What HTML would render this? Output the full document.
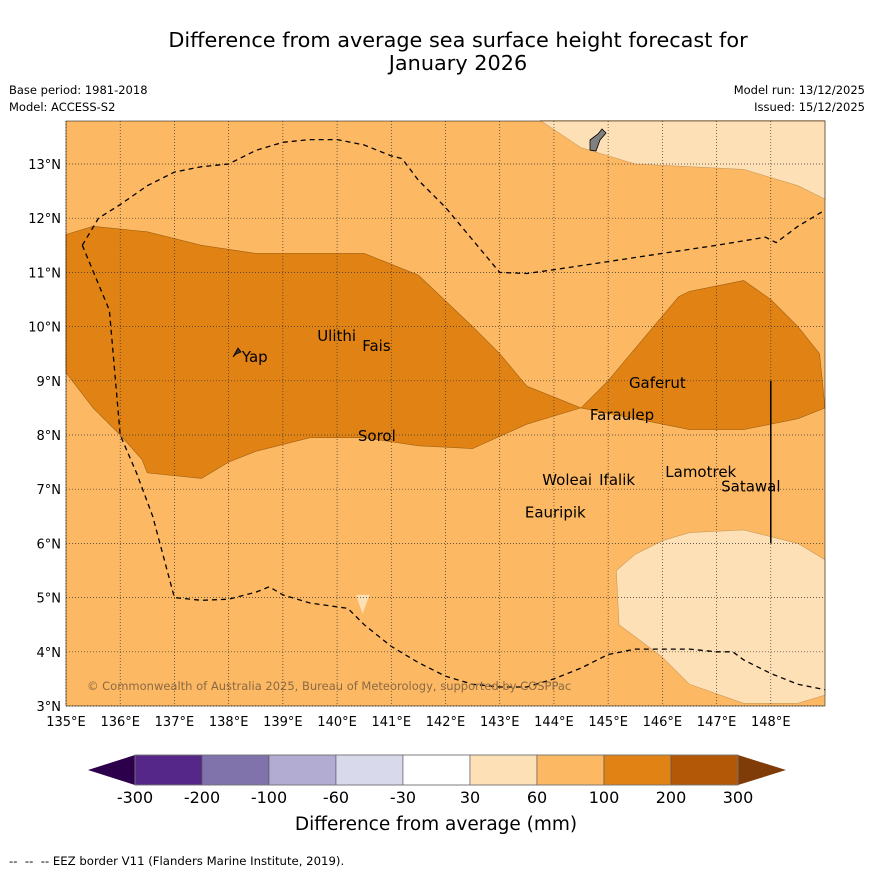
<!DOCTYPE html>
<html><head><meta charset="utf-8"><style>
body{margin:0;background:#fff;font-family:"Liberation Sans","DejaVu Sans",sans-serif;}
svg text{font-family:"DejaVu Sans","Liberation Sans",sans-serif;}
</style></head><body>
<svg id="c" width="873" height="873" xmlns="http://www.w3.org/2000/svg">
<text x="458" y="47" font-size="20.8" text-anchor="middle">Difference from average sea surface height forecast for</text>
<text x="458" y="70" font-size="20.8" text-anchor="middle">January 2026</text>
<text x="9" y="94" font-size="11.5">Base period: 1981-2018</text>
<text x="9" y="111" font-size="11.5">Model: ACCESS-S2</text>
<text x="865" y="94" font-size="11.5" text-anchor="end">Model run: 13/12/2025</text>
<text x="865" y="111" font-size="11.5" text-anchor="end">Issued: 15/12/2025</text>
<g id="map"></g>
<g id="cbar"></g>
<text x="436" y="830" font-size="18.5" text-anchor="middle">Difference from average (mm)</text>
<text x="9" y="865" font-size="11.7">-- &#160;-- &#160;-- EEZ border V11 (Flanders Marine Institute, 2019).</text>
</svg>
<script>
const lonTicks=[135,136,137,138,139,140,141,142,143,144,145,146,147,148];
const latTicks=[3,4,5,6,7,8,9,10,11,12,13];
const cbLevels=["-300","-200","-100","-60","-30","30","60","100","200","300"];
const cbColors=["#542788","#8073ac","#b2abd2","#d8daeb","#ffffff","#fee0b6","#fdb863","#e08214","#b35806"];
const darkLon=[135,135.5,136.5,137.5,138.5,140.5,141.5,142.5,143,143.5,144.5,145,145.5,146.3,146.5,147.5,148,148.5,148.9,149,148.5,147.5,146.5,145.5,144.5,143.5,142.5,141.5,140.5,139.5,138.5,138,137.5,136.5,136.4,136,135.5,135];
const darkLat=[11.7,11.85,11.75,11.5,11.35,11.35,10.95,10,9.5,8.9,8.5,9,9.6,10.55,10.65,10.85,10.5,10,9.5,8.5,8.3,8.1,8.1,8.3,8.5,8.2,7.75,7.8,7.95,7.95,7.7,7.5,7.2,7.3,7.55,8,8.5,9.15];
const topLon=[143.75,144.5,145.5,146.5,147.5,148.5,149,149];
const topLat=[13.8,13.3,13.0,12.95,12.9,12.6,12.35,13.8];
const botLon=[145.15,145.5,146,146.5,147.5,148.5,149,149,148.5,147.5,146.5,146,145.2];
const botLat=[5.5,5.8,6.05,6.2,6.25,6.0,5.7,3.2,3.05,3.05,3.4,3.9,4.5];
const eezALon=[135.3,135.6,136,136.5,137,137.5,138,138.5,139,139.5,140,140.5,141,141.2,141.5,142,142.5,143,143.5,144,145,146,147,147.9,148.1,148.5,149];
const eezALat=[11.5,12,12.25,12.6,12.85,12.95,13,13.25,13.4,13.45,13.45,13.35,13.15,13.1,12.7,12.2,11.6,11,10.98,11.05,11.2,11.35,11.5,11.65,11.55,11.85,12.15];
const eezBLon=[135.3,135.8,136,136.3,136.6,137,137.5,138,138.5,138.75,139,139.5,140.2,140.5,141,141.5,142,142.5,143,143.5,144,144.5,145,145.5,146.5,147,147.3,147.5,148,148.5,149];
const eezBLat=[11.5,10.3,8,7.3,6.5,5,4.95,4.97,5.1,5.2,5.05,4.9,4.8,4.5,4.1,3.8,3.55,3.4,3.35,3.35,3.5,3.7,3.95,4.05,4.05,4.0,4.0,3.85,3.6,3.4,3.3];
const islands=["Yap","Ulithi","Fais","Gaferut","Faraulep","Sorol","Woleai","Ifalik","Lamotrek","Satawal","Eauripik"];
const islLon=[138.17,139.56,140.39,145.31,144.59,140.31,143.71,144.76,145.98,147.01,143.39];
const islLat=[9.44,9.83,9.64,8.96,8.37,7.98,7.17,7.17,7.32,7.05,6.57];

const X0=66,X1=825,Y0=121,Y1=706,L0=135,L1=149,A0=3,A1=3+(706-121)/54.2;
const sx=l=>X0+(l-L0)/(L1-L0)*(X1-X0);
const sy=a=>Y1-(a-A0)/(A1-A0)*(Y1-Y0);
const NS="http://www.w3.org/2000/svg";
const mk=(t,at,p)=>{const e=document.createElementNS(NS,t);for(const k in at)e.setAttribute(k,at[k]);p.appendChild(e);return e;};
const map=document.getElementById('map');
const pts=(lo,la)=>lo.map((v,i)=>sx(v).toFixed(1)+','+sy(la[i]).toFixed(1)).join(' ');
let bg=mk('rect',{x:X0,y:Y0,width:X1-X0,height:Y1-Y0,fill:'#fdb863'},map);


let p1=mk('polygon',{points:pts(darkLon,darkLat),fill:'#e08214',stroke:'#a0600f','stroke-width':0.6},map);


let p2=mk('polygon',{points:pts(topLon,topLat),fill:'#fee0b6',stroke:'#c99a5a','stroke-width':0.6},map);


let p3=mk('polygon',{points:pts(botLon,botLat),fill:'#fee0b6',stroke:'#c99a5a','stroke-width':0.6},map);


let dp=mk('polygon',{points:`${sx(140.35)},${sy(5.05)} ${sx(140.6)},${sy(5.05)} ${sx(140.47)},${sy(4.7)}`,fill:'#fee0b6'},map);


lonTicks.forEach(l=>{const g=mk('line',{x1:sx(l),x2:sx(l),y1:Y0,y2:Y1,stroke:'#333','stroke-width':0.7,'stroke-dasharray':'1,2'},map);


const t=mk('text',{x:sx(l),y:Y1+20,'font-size':13,'text-anchor':'middle'},map);t.textContent=l+'°E';

});
latTicks.forEach(a=>{const g=mk('line',{x1:X0,x2:X1,y1:sy(a),y2:sy(a),stroke:'#333','stroke-width':0.7,'stroke-dasharray':'1,2'},map);


const t=mk('text',{x:X0-5,y:sy(a)+5,'font-size':13,'text-anchor':'end'},map);t.textContent=a+'°N';

});
let e1=mk('polyline',{points:pts(eezALon,eezALat),fill:'none',stroke:'#000','stroke-width':1.3,'stroke-dasharray':'5,4'},map);


let e2=mk('polyline',{points:pts(eezBLon,eezBLat),fill:'none',stroke:'#000','stroke-width':1.3,'stroke-dasharray':'5,4'},map);


let vl=mk('line',{x1:sx(148),x2:sx(148),y1:sy(9),y2:sy(6),stroke:'#000','stroke-width':1.5},map);


let guam=mk('polygon',{points:'590,140 598,134 602,129 606,133 600,140 596,151 590,150',fill:'#808080',stroke:'#000','stroke-width':0.8},map);


let yap=mk('polygon',{points:'233,357 238,348 241,352 236,354',fill:'#333',stroke:'#000','stroke-width':0.8},map);


islands.forEach((n,i)=>{const t=mk('text',{x:sx(islLon[i])+4,y:sy(islLat[i])+5,'font-size':15},map);t.textContent=n;

});
let cp=mk('text',{x:87,y:690,'font-size':11.5,fill:'#8a6a45'},map);cp.textContent='© Commonwealth of Australia 2025, Bureau of Meteorology, supported by COSPPac';


let fr=mk('rect',{x:X0,y:Y0,width:X1-X0,height:Y1-Y0,fill:'none',stroke:'#000','stroke-width':0.5},map);



const cb=document.getElementById('cbar');
const CX0=135,CX1=738,CY=755,CH=30,w=(CX1-CX0)/cbColors.length;
let lt=mk('polygon',{points:`${CX0},${CY} ${CX0},${CY+CH} 88,${CY+CH/2}`,fill:'#2d004b'},cb);


let rt=mk('polygon',{points:`${CX1},${CY} ${CX1},${CY+CH} 786,${CY+CH/2}`,fill:'#7f3b08'},cb);


cbColors.forEach((c,i)=>{const r=mk('rect',{x:CX0+i*w,y:CY,width:w,height:CH,fill:c,stroke:'#555','stroke-width':0.6},cb);

});
let ol=mk('rect',{x:CX0,y:CY,width:CX1-CX0,height:CH,fill:'none',stroke:'#777','stroke-width':0.8},cb);


cbLevels.forEach((v,i)=>{const t=mk('text',{x:CX0+i*w,y:803,'font-size':16,'text-anchor':'middle'},cb);t.textContent=v;

});
</script>
</body></html>
